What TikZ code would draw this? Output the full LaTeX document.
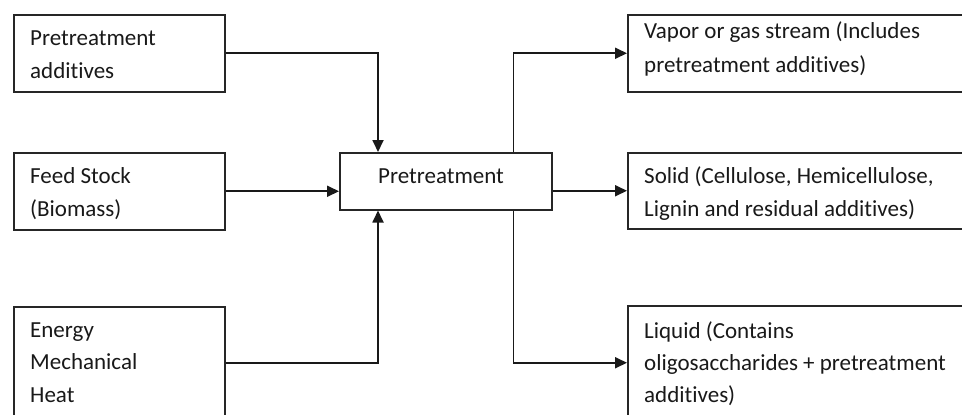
\documentclass[tikz,border=0pt]{standalone}
\usepackage{fontspec}
\setmainfont{Carlito}[Ligatures=NoCommon]
\usetikzlibrary{arrows.meta}
\begin{document}
\begin{tikzpicture}[x=1bp,y=-1bp,
  box/.style={draw=black!85, line width=1.5bp, fill=white, inner sep=0pt, anchor=north west},
  txt/.style={anchor=base west, align=left, inner sep=0pt, font=\fontsize{23bp}{33bp}\selectfont, text=black!90},
  arr/.style={draw=black!90, line width=1.8bp, -{Triangle[length=12bp,width=11bp]}}]
\useasboundingbox (0,0) rectangle (962,414);
\clip (0,0) rectangle (962,414);
\fill[white] (0,0) rectangle (962,414);
% input boxes
\node[box, minimum width=211bp, minimum height=77bp] (A) at (13,14) {};
\node[box, minimum width=211bp, minimum height=77bp] (F) at (13,152) {};
\node[box, minimum width=211bp, minimum height=112bp] (E) at (13,306) {};
% central box
\node[box, minimum width=212bp, minimum height=57bp] (P) at (339,152) {};
% output boxes
\node[box, minimum width=363bp, minimum height=77bp] (V) at (627,14) {};
\node[box, minimum width=363bp, minimum height=76bp] (S) at (627,152) {};
\node[box, minimum width=363bp, minimum height=114bp] (L) at (627,305) {};
% texts (anchored at the baseline of the last line)
\node[txt] (tA) at (30,78) {Pretreatment\\additives};
\node[txt] (tF) at (30,216) {Feed Stock\\(Biomass)};
\node[txt, font=\fontsize{23bp}{32.5bp}\selectfont] (tE) at (30,402) {Energy\\Mechanical\\Heat};
\node[txt] (tP) at (378,183) {Pretreatment};
\node[txt, font=\fontsize{23bp}{34bp}\selectfont] (tV) at (644,72) {Vapor or gas stream (Includes\\pretreatment additives)};
\node[txt] (tS) at (644,216) {Solid (Cellulose, Hemicellulose,\\Lignin and residual additives)};
\node[txt, font=\fontsize{23bp}{32bp}\selectfont] (tL) at (644,402) {Liquid (Contains\\oligosaccharides + pretreatment\\additives)};
% connectors in
\draw[arr] (A.east) -| ([xshift=39bp]P.north west);
\draw[arr] (F.east) -- (F.east -| P.west);
\draw[arr] (E.east) -| ([xshift=39bp]P.south west);
% connectors out
\draw[arr] (P.east |- S.west) -- (S.west);
\draw[arr] ([xshift=-39bp]P.north east) |- (V.west);
\draw[arr] ([xshift=-39bp]P.south east) |- (L.west);
\end{tikzpicture}
\end{document}
